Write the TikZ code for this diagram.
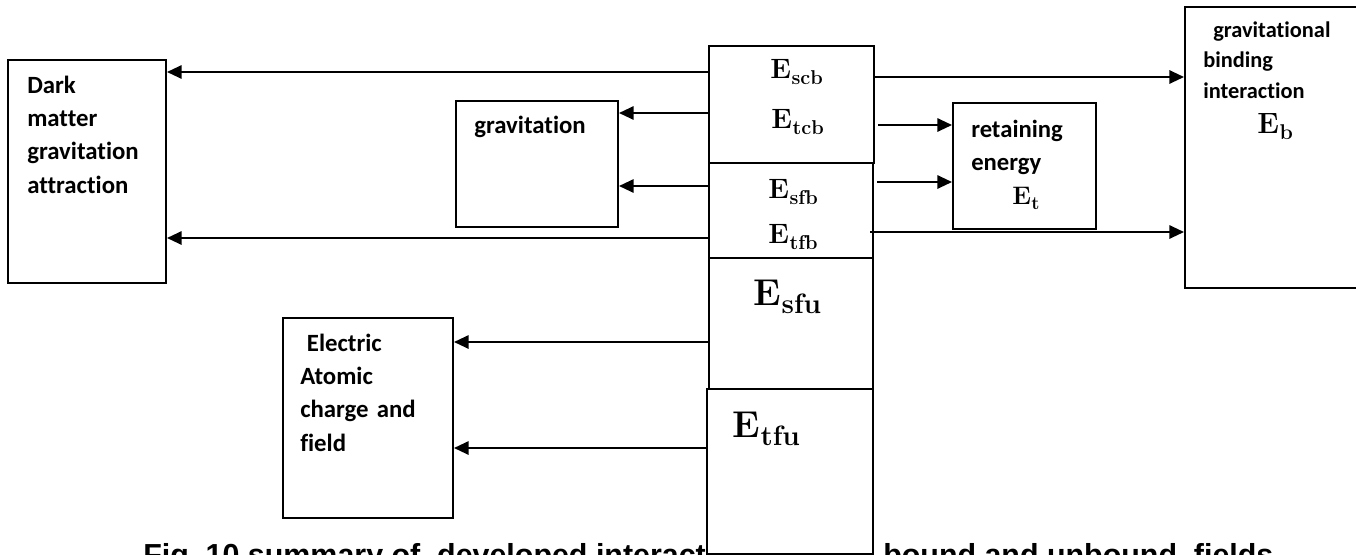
\documentclass[tikz,border=0pt]{standalone}
\usepackage{fontspec}
\newfontfamily\labelfont[Ligatures=NoCommon]{Carlito}
\newfontfamily\capfont{Liberation Sans}
\usetikzlibrary{arrows.meta}
% bold energy symbol: letter size, subscript size, subscript text
\newcommand{\Ebold}[3]{\fontsize{#1}{#1}\selectfont\bfseries E\kern0.02em\raisebox{-0.22em}{\fontsize{#2}{#2}\selectfont #3}}
\begin{document}
\begin{tikzpicture}[x=0.75pt,y=-0.75pt,
  box/.style={draw, line width=1.5pt, fill=white, inner sep=0pt, anchor=north west},
  arr/.style={line width=1.5pt, -{Triangle[length=11pt,width=10pt]}},
  lbl/.style={inner sep=0pt, anchor=base west, align=left, text width=150pt},
  sanslbl/.style={font=\labelfont\bfseries\fontsize{18.6}{25.1}\selectfont},
  smalllbl/.style={font=\labelfont\bfseries\fontsize{16.8}{22.9}\selectfont},
  sym/.style={inner sep=0pt, anchor=base west},
  capt/.style={inner sep=0pt, anchor=base west, font=\capfont\bfseries\fontsize{22.8}{26}\selectfont}]

\useasboundingbox (0,0) rectangle (1356,554);
\clip (0,0) rectangle (1356,554);

% caption (partly hidden behind the lowest central box)
\node[capt] (capleft) at (143,565) {Fig.\ 10 summary of\ \ developed interact};
\node[capt] (capright) at (883,565) {bound and unbound\ \ fields};

% outer boxes
\node[box, minimum width=118.5pt, minimum height=167.25pt] (dm) at (7,59) {};
\node[box, minimum width=121.5pt, minimum height=94.5pt] (grav) at (455,100) {};
\node[box, minimum width=127.5pt, minimum height=150pt] (elec) at (282,317) {};
\node[box, minimum width=107.25pt, minimum height=94.5pt] (ret) at (952,102) {};
\node[box, minimum width=162pt, minimum height=210.75pt] (gb) at (1184,6) {};

% central stack of energy boxes
\node[box, minimum width=123.75pt, minimum height=87.75pt] (cb1) at (708,45) {};
\node[box, minimum width=123pt, minimum height=72pt] (cb2) at (708,162) {};
\node[box, minimum width=123pt, minimum height=98.25pt] (cb3) at (708,257) {};
\node[box, minimum width=124.5pt, minimum height=123.75pt] (cb4) at (706,388) {};

% box labels
\node[lbl, sanslbl] (dmtext) at (27,93) {Dark\\matter\\gravitation\\attraction};
\node[lbl, sanslbl] (gravtext) at (474,133) {gravitation};
\node[lbl, sanslbl] (electext) at (300,351) {\hspace*{5pt}Electric\\Atomic\\charge and\\field};
\node[lbl, sanslbl] (rettext) at (971,137) {\fontsize{18.5}{23.25}\selectfont retaining\\energy};
\node[lbl, smalllbl] (gbtext) at (1203,37) {\hspace*{7.5pt}gravitational\\binding\\interaction};

% energy symbols
\node[sym] (escb) at (770,78) {\Ebold{21}{15}{scb}};
\node[sym] (etcb) at (771,128) {\Ebold{21}{15}{tcb}};
\node[sym] (esfb) at (768,198) {\Ebold{21}{15}{sfb}};
\node[sym] (etfb) at (768,243) {\Ebold{21}{15}{tfb}};
\node[sym] (esfu) at (753,305) {\Ebold{28}{21}{sfu}};
\node[sym] (etfu) at (732,437) {\Ebold{28}{21}{tfu}};
\node[sym] (eb) at (1257,133) {\Ebold{22}{16}{b}};
\node[sym] (et) at (1012,204) {\Ebold{19}{14}{t}};

% connectors to the left
\draw[arr] (cb1.west |- 0,72) -- (dm.east |- 0,72);
\draw[arr] (cb1.west |- 0,113) -- (grav.east |- 0,113);
\draw[arr] (cb2.west |- 0,186) -- (grav.east |- 0,186);
\draw[arr] (cb2.west |- 0,238) -- (dm.east |- 0,238);
\draw[arr] (cb3.west |- 0,342) -- (elec.east |- 0,342);
\draw[arr] (cb4.west |- 0,448) -- (elec.east |- 0,448);

% connectors to the right
\draw[arr] (cb1.east |- 0,77) -- (gb.west |- 0,77);
\draw[arr] ([xshift=2.25pt]cb1.east |- 0,125) -- (ret.west |- 0,125);
\draw[arr] ([xshift=2.25pt]cb2.east |- 0,182) -- (ret.west |- 0,182);
\draw[arr] ([xshift=-3pt]cb2.east |- 0,232) -- (gb.west |- 0,232);
\end{tikzpicture}
\end{document}
